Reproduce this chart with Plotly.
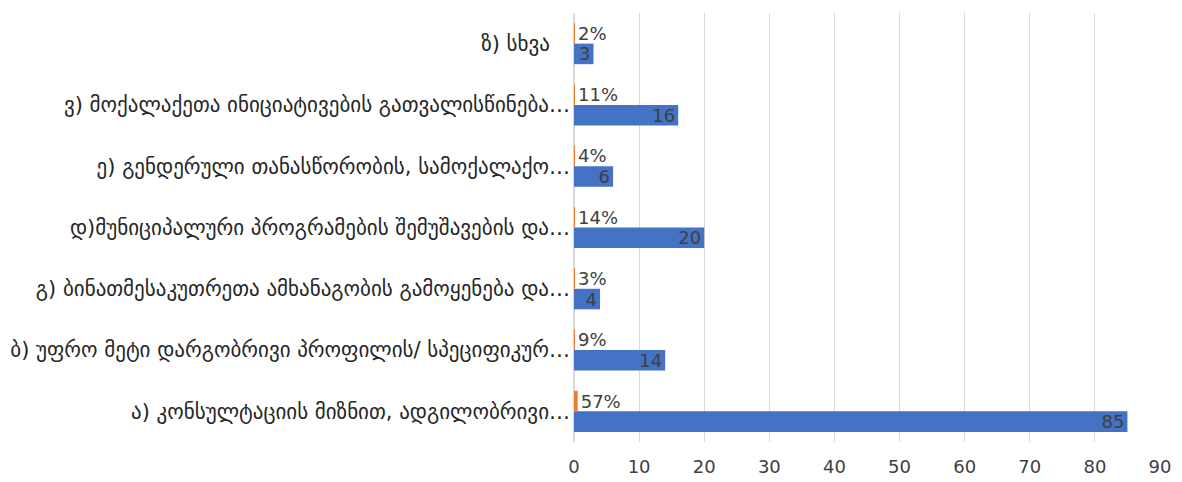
import plotly.graph_objects as go

categories = [
    "ა) კონსულტაციის მიზნით, ადგილობრივი…",
    "ბ) უფრო მეტი დარგობრივი პროფილის/ სპეციფიკურ…",
    "გ) ბინათმესაკუთრეთა ამხანაგობის გამოყენება და…",
    "დ)მუნიციპალური პროგრამების შემუშავების და…",
    "ე) გენდერული თანასწორობის, სამოქალაქო…",
    "ვ) მოქალაქეთა ინიციატივების გათვალისწინება…",
    "ზ) სხვა\u00a0\u00a0\u00a0",
]
counts = [85, 14, 4, 20, 6, 16, 3]
shares = [0.57, 0.09, 0.03, 0.14, 0.04, 0.11, 0.02]
share_labels = ["57%", "9%", "3%", "14%", "4%", "11%", "2%"]
x_ticks = [0, 10, 20, 30, 40, 50, 60, 70, 80, 90]

font = "DejaVu Sans, Noto Sans, sans-serif"

fig = go.Figure()
fig.add_trace(go.Bar(
    y=categories, x=counts, orientation="h", name="count",
    marker=dict(color="#4472C4", line=dict(width=0)),
    text=[str(c) for c in counts], textposition="inside", insidetextanchor="end",
    textangle=0,
    textfont=dict(color="#404040", size=18, family=font),
    constraintext="none", cliponaxis=False,
))
fig.add_trace(go.Bar(
    y=categories, x=shares, orientation="h", name="share",
    marker=dict(color="#ED7D31", line=dict(width=0)),
    text=share_labels, textposition="outside", textangle=0,
    textfont=dict(color="#404040", size=18, family=font),
    constraintext="none", cliponaxis=False,
))

fig.update_layout(
    width=1182, height=482,
    margin=dict(l=574, r=22, t=13, b=40),
    barmode="group", bargap=0.33, bargroupgap=0,
    showlegend=False,
    plot_bgcolor="white", paper_bgcolor="white",
    font=dict(family=font, color="#404040"),
    uniformtext=dict(mode="show", minsize=18),
)
fig.update_xaxes(
    range=[0, 90], tickvals=x_ticks, showgrid=True, gridcolor="#D9D9D9", gridwidth=1,
    zeroline=True, zerolinecolor="#D9D9D9", showline=False, automargin=False,
    tickfont=dict(size=18, color="#404040"), ticklabelstandoff=12,
)
fig.update_yaxes(
    categoryorder="array", categoryarray=categories,
    showgrid=False, showline=False, ticks="", automargin=False,
    tickfont=dict(size=21, color="#262626"), ticklabelstandoff=3,
)

fig.write_html("out.html")
